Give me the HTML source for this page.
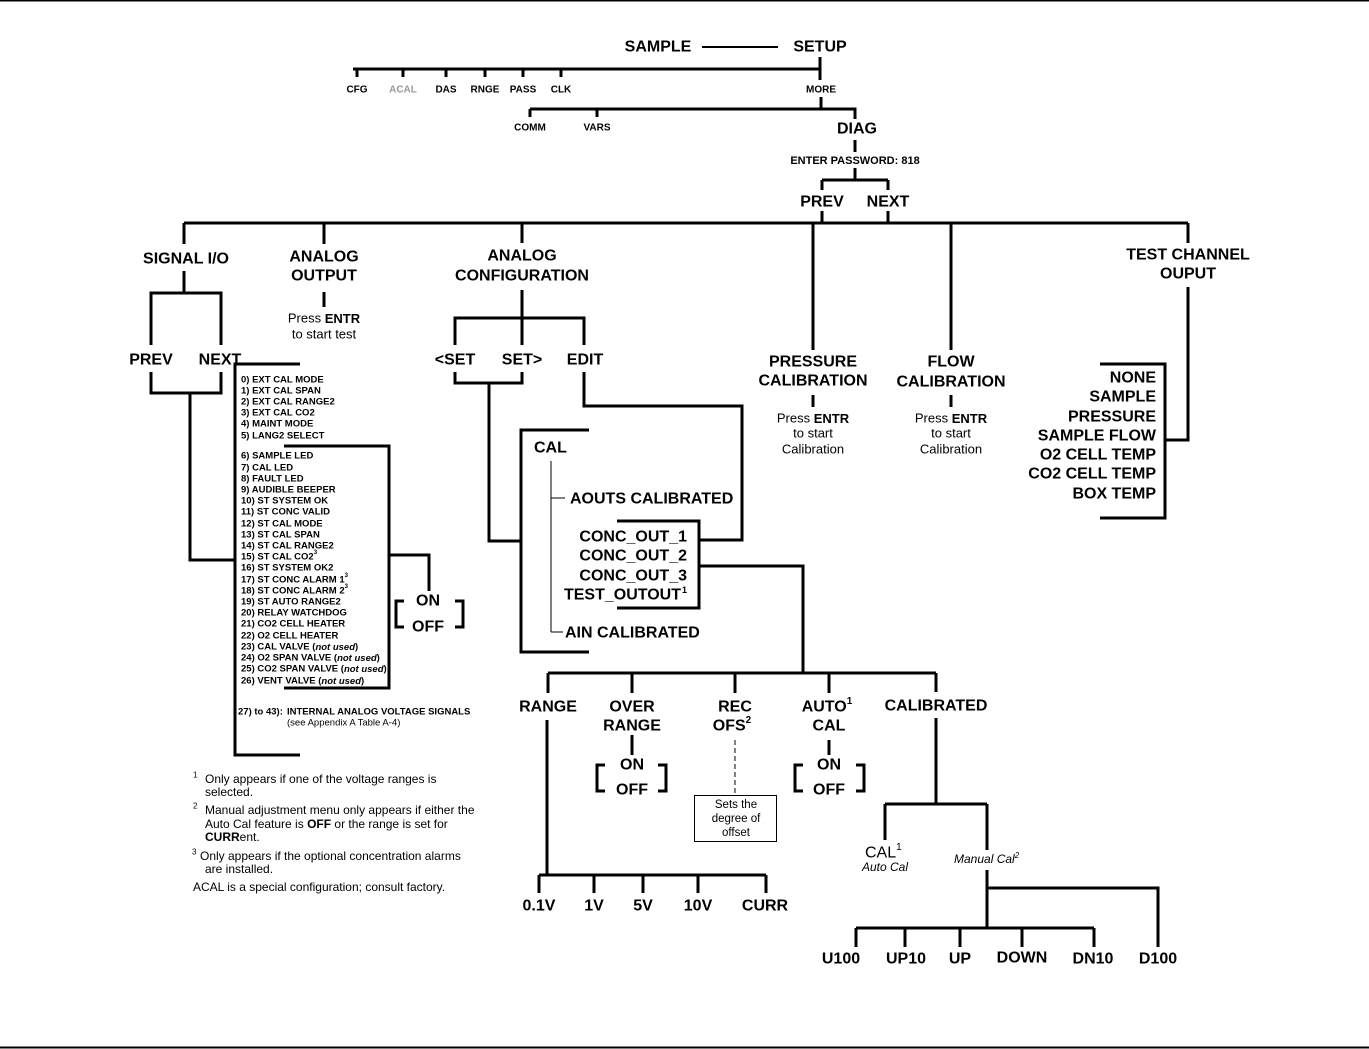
<!DOCTYPE html>
<html><head><meta charset="utf-8"><style>
html,body{margin:0;padding:0;background:#fff;}
svg{display:block;}
text{font-family:"Liberation Sans",Arial,sans-serif;dominant-baseline:central;transform:translateY(1px);}
.b{font-weight:bold;font-size:16px;}
.s{font-weight:bold;font-size:10px;}
.l{font-weight:bold;font-size:9.5px;}
.r{font-size:13px;}
.f{font-size:12px;}
</style></head><body>
<svg width="1369" height="1049" viewBox="0 0 1369 1049" xmlns="http://www.w3.org/2000/svg">
<line x1="0" y1="0.5" x2="1369" y2="0.5" stroke="#000" stroke-width="2"/>
<line x1="0" y1="1047.5" x2="1369" y2="1047.5" stroke="#000" stroke-width="2"/>
<g fill="none" stroke="#000" stroke-width="3">
<path d="M820 57V69M353 69H820V80M357 69V77M403 69V77M446 69V77M485 69V77M523 69V77M561 69V77"/>
<path d="M821 97V109M530 109H855V119M530 109V117M597 109V117"/>
<path d="M855 140V152M855 168V180M822 180H888M822 180V190M888 180V190M822 211V223M888 211V223"/>
<path d="M184 223H1188M184 223V244M324 223V244M522 223V243M813 223V350M951 223V350M1188 223V243"/>
<path d="M184 271V293M151 345V293H221V345M151 372V393H221V372M190 393V560H235"/>
<path d="M300 364H235V755H300M284 446H389V688H284M389 555H429V591"/>
<path d="M404 601H396V627H404M455 601H463V627H455"/>
<path d="M324 292V307"/>
<path d="M522 290V345M455 345V318H584V345M455 372V383H522V372M489 383V541H521"/>
<path d="M584 372V406H742V540H699"/>
<path d="M589 430H521V652H589M617 521H699V608H617M699 566H803V673M548 673H936"/>
<path d="M548 673V693M632 673V693M735 673V693M829 673V693M936 673V692"/>
<path d="M813 395V407M951 395V407"/>
<path d="M1188 287V440H1165M1100 364H1165V518H1100"/>
<path d="M547 720V875M539 875H766M539 875V893M594 875V893M643 875V893M698 875V893M766 875V893"/>
<path d="M632 735V755M829 740V755"/>
<path d="M605 765H597V791H605M658 765H666V791H658"/>
<path d="M803 765H795V791H803M856 765H864V791H856"/>
<path d="M936 718V804M885 804H987M885 804V840M987 804V850M987 870V928M987 888H1158V947M856 928H1094M856 928V947M905 928V947M960 928V947M1022 928V947M1094 928V947"/>
</g>
<line x1="702" y1="47" x2="778" y2="47" stroke="#000" stroke-width="2"/>
<path d="M551 461V632M551 498H565M551 632H563" stroke="#000" stroke-width="1" fill="none"/>
<line x1="735" y1="740" x2="735" y2="795" stroke="#000" stroke-width="1" stroke-dasharray="5,3"/>
<rect x="694.5" y="795.5" width="82" height="46" fill="none" stroke="#000" stroke-width="1"/>

<g class="b" text-anchor="middle">
<text x="658" y="46">SAMPLE</text><text x="820" y="46">SETUP</text>
<text x="857" y="128">DIAG</text>
<text x="822" y="201">PREV</text><text x="888" y="201">NEXT</text>
<text x="186" y="258">SIGNAL I/O</text>
<text x="324" y="256">ANALOG</text><text x="324" y="275">OUTPUT</text>
<text x="522" y="255">ANALOG</text><text x="522" y="275">CONFIGURATION</text>
<text x="813" y="361">PRESSURE</text><text x="813" y="380">CALIBRATION</text>
<text x="951" y="361">FLOW</text><text x="951" y="381">CALIBRATION</text>
<text x="1188" y="254">TEST CHANNEL</text><text x="1188" y="273">OUPUT</text>
<text x="151" y="359">PREV</text><text x="220" y="359">NEXT</text>
<text x="455" y="359">&lt;SET</text><text x="522" y="359">SET&gt;</text><text x="585" y="359">EDIT</text>
<text x="428" y="600">ON</text><text x="428" y="626">OFF</text>
<text x="548" y="706">RANGE</text>
<text x="632" y="706">OVER</text><text x="632" y="725">RANGE</text>
<text x="735" y="706">REC</text><text x="732" y="725">OFS<tspan font-size="10" dy="-6">2</tspan></text>
<text x="827" y="706">AUTO<tspan font-size="10" dy="-6">1</tspan></text><text x="829" y="725">CAL</text>
<text x="936" y="705">CALIBRATED</text>
<text x="632" y="764">ON</text><text x="632" y="789">OFF</text>
<text x="829" y="764">ON</text><text x="829" y="789">OFF</text>
<text x="539" y="905">0.1V</text><text x="594" y="905">1V</text><text x="643" y="905">5V</text><text x="698" y="905">10V</text><text x="765" y="905">CURR</text>
<text x="841" y="958">U100</text><text x="906" y="958">UP10</text><text x="960" y="958">UP</text><text x="1022" y="957">DOWN</text><text x="1093" y="958">DN10</text><text x="1158" y="958">D100</text>
</g>
<g class="b">
<text x="534" y="447">CAL</text>
<text x="570" y="498">AOUTS CALIBRATED</text>
<text x="565" y="632">AIN CALIBRATED</text>
</g>
<g class="b" text-anchor="end">
<text x="687" y="536">CONC_OUT_1</text><text x="687" y="555">CONC_OUT_2</text><text x="687" y="575">CONC_OUT_3</text>
<text x="681" y="594">TEST_OUTOUT</text>
<text x="1156" y="377">NONE</text><text x="1156" y="396">SAMPLE</text><text x="1156" y="416">PRESSURE</text><text x="1156" y="435">SAMPLE FLOW</text><text x="1156" y="454">O2 CELL TEMP</text><text x="1156" y="473">CO2 CELL TEMP</text><text x="1156" y="493">BOX TEMP</text>
</g>
<text x="682" y="589" font-size="9" font-weight="bold">1</text>
<g class="s" text-anchor="middle">
<text x="357" y="89">CFG</text><text x="403" y="89" fill="#999">ACAL</text><text x="446" y="89">DAS</text><text x="485" y="89">RNGE</text><text x="523" y="89">PASS</text><text x="561" y="89">CLK</text>
<text x="821" y="89">MORE</text><text x="530" y="127">COMM</text><text x="597" y="127">VARS</text>
<text x="855" y="160" font-size="11">ENTER PASSWORD: 818</text>
</g>
<g class="r" text-anchor="middle">
<text x="324" y="317">Press <tspan font-weight="bold">ENTR</tspan></text><text x="324" y="333">to start test</text>
<text x="813" y="417">Press <tspan font-weight="bold">ENTR</tspan></text><text x="813" y="432">to start</text><text x="813" y="448">Calibration</text>
<text x="951" y="417">Press <tspan font-weight="bold">ENTR</tspan></text><text x="951" y="432">to start</text><text x="951" y="448">Calibration</text>
<text x="736" y="804" font-size="11.5">Sets the</text><text x="736" y="818" font-size="11.5">degree of</text><text x="736" y="832" font-size="11.5">offset</text>
</g>
<text x="865" y="852" font-size="16">CAL<tspan font-size="10" dy="-6">1</tspan></text>
<text x="885" y="866" font-size="12" font-style="italic" text-anchor="middle">Auto Cal</text>
<text x="954" y="858" font-size="12" font-style="italic">Manual Cal<tspan font-size="8" dy="-4">2</tspan></text>
<g class="l">
<text x="241" y="379">0) EXT CAL MODE</text>
<text x="241" y="390">1) EXT CAL SPAN</text>
<text x="241" y="401">2) EXT CAL RANGE2</text>
<text x="241" y="412">3) EXT CAL CO2</text>
<text x="241" y="423">4) MAINT MODE</text>
<text x="241" y="435">5) LANG2 SELECT</text>
<text x="241" y="455">6) SAMPLE LED</text>
<text x="241" y="467">7) CAL LED</text>
<text x="241" y="478">8) FAULT LED</text>
<text x="241" y="489">9) AUDIBLE BEEPER</text>
<text x="241" y="500">10) ST SYSTEM OK</text>
<text x="241" y="511">11) ST CONC VALID</text>
<text x="241" y="523">12) ST CAL MODE</text>
<text x="241" y="534">13) ST CAL SPAN</text>
<text x="241" y="545">14) ST CAL RANGE2</text>
<text x="241" y="556">15) ST CAL CO2<tspan font-size="6" dy="-4">3</tspan></text>
<text x="241" y="567">16) ST SYSTEM OK2</text>
<text x="241" y="579">17) ST CONC ALARM 1<tspan font-size="6" dy="-4">3</tspan></text>
<text x="241" y="590">18) ST CONC ALARM 2<tspan font-size="6" dy="-4">3</tspan></text>
<text x="241" y="601">19) ST AUTO RANGE2</text>
<text x="241" y="612">20) RELAY WATCHDOG</text>
<text x="241" y="623">21) CO2 CELL HEATER</text>
<text x="241" y="635">22) O2 CELL HEATER</text>
<text x="241" y="646">23) CAL VALVE (<tspan font-style="italic">not used</tspan>)</text>
<text x="241" y="657">24) O2 SPAN VALVE (<tspan font-style="italic">not used</tspan>)</text>
<text x="241" y="668">25) CO2 SPAN VALVE (<tspan font-style="italic">not used</tspan>)</text>
<text x="241" y="680">26) VENT VALVE (<tspan font-style="italic">not used</tspan>)</text>
<text x="238" y="711">27) to 43):</text><text x="287" y="711">INTERNAL ANALOG VOLTAGE SIGNALS</text>
<text x="287" y="722" font-weight="normal">(see Appendix A Table A-4)</text>
</g>
<g class="f">
<text x="193" y="774" font-size="8">1</text><text x="205" y="778">Only appears if one of the voltage ranges is</text>
<text x="205" y="791">selected.</text>
<text x="193" y="805" font-size="8">2</text><text x="205" y="809">Manual adjustment menu only appears if either the</text>
<text x="205" y="823">Auto Cal feature is <tspan font-weight="bold">OFF</tspan> or the range is set for</text>
<text x="205" y="836"><tspan font-weight="bold">CURR</tspan>ent.</text>
<text x="192" y="851" font-size="8">3</text><text x="200" y="855">Only appears if the optional concentration alarms</text>
<text x="205" y="868">are installed.</text>
<text x="193" y="886">ACAL is a special configuration; consult factory.</text>
</g>
</svg>
</body></html>
